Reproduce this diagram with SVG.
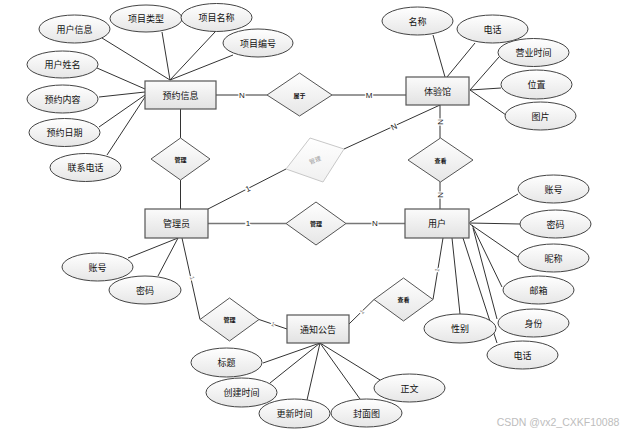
<svg xmlns="http://www.w3.org/2000/svg" width="629" height="434" viewBox="0 0 629 434">
<defs>
<linearGradient id="gE" x1="0" y1="0" x2="0" y2="1"><stop offset="0" stop-color="#ffffff"/><stop offset="1" stop-color="#e6e6e6"/></linearGradient>
<linearGradient id="gR" x1="0" y1="0" x2="0" y2="1"><stop offset="0" stop-color="#fbfbfb"/><stop offset="1" stop-color="#e2e2e2"/></linearGradient>
<linearGradient id="gF" x1="0" y1="0" x2="0" y2="1"><stop offset="0" stop-color="#ffffff"/><stop offset="1" stop-color="#f0f0f0"/></linearGradient>
<style>
.e{fill:url(#gE);stroke:#444;stroke-width:1}
.r{fill:url(#gR);stroke:#555;stroke-width:1.2}
.d{fill:url(#gE);stroke:#555;stroke-width:1}
.t{font-family:"Noto Sans CJK SC","Noto Sans",sans-serif;font-size:9px;fill:#111;text-anchor:middle;dominant-baseline:central}
.dt{font-family:"Noto Sans CJK SC","Noto Sans",sans-serif;font-size:6px;font-weight:bold;fill:#111;text-anchor:middle;dominant-baseline:central}
.c line,.c polyline{stroke:#333;stroke-width:1;fill:none}
.c .g{stroke:#777;stroke-width:1.5}
.l{font-family:"Liberation Sans",sans-serif;font-size:8px;fill:#222;text-anchor:middle;dominant-baseline:central;stroke:#fff;stroke-width:2.5;paint-order:stroke}
.ls{font-family:"Liberation Sans",sans-serif;font-size:6px;fill:#777;text-anchor:middle;dominant-baseline:central;stroke:#fff;stroke-width:2;paint-order:stroke}
</style>
</defs>
<rect width="629" height="434" fill="#fff"/>
<g id="connectors" class="c">
<line x1="102" y1="38" x2="170" y2="80"/>
<line x1="162" y1="32" x2="170" y2="80"/>
<line x1="215" y1="32" x2="170" y2="80"/>
<line x1="233" y1="55" x2="170" y2="80"/>
<line x1="97" y1="68" x2="145" y2="89"/>
<line x1="99" y1="97" x2="145" y2="92"/>
<line x1="99" y1="127" x2="145" y2="95"/>
<line x1="107" y1="155" x2="145" y2="97"/>
<line x1="433" y1="35" x2="445" y2="77"/>
<line x1="475" y1="43" x2="447" y2="77"/>
<line x1="499" y1="57" x2="470" y2="90"/>
<line x1="501" y1="88" x2="470" y2="90"/>
<line x1="506" y1="115" x2="470" y2="90"/>
<line x1="216" y1="95" x2="267" y2="95"/>
<line x1="332" y1="95" x2="406" y2="95"/>
<line x1="180.5" y1="109" x2="180.5" y2="138"/>
<line x1="180.5" y1="180" x2="180.5" y2="209"/>
<line x1="208" y1="209" x2="286" y2="169"/>
<line x1="344" y1="149" x2="440" y2="105"/>
<line x1="440" y1="105" x2="440" y2="138"/>
<line x1="440" y1="182" x2="440" y2="209"/>
<line class="g" x1="208" y1="223.5" x2="286" y2="223.5"/>
<line class="g" x1="346" y1="223.5" x2="405" y2="223.5"/>
<polyline points="182,238 200,319.5"/>
<line x1="259" y1="319.5" x2="287" y2="329"/>
<line x1="349" y1="324" x2="374" y2="299.5"/>
<line x1="433" y1="299.5" x2="443" y2="238"/>
<line x1="128" y1="258" x2="178" y2="238"/>
<line x1="158" y1="276" x2="178" y2="238"/>
<line x1="263" y1="363" x2="320" y2="343"/>
<line x1="270" y1="383" x2="320" y2="343"/>
<line x1="307" y1="400" x2="320" y2="343"/>
<line x1="360" y1="399" x2="320" y2="343"/>
<line x1="380" y1="380" x2="320" y2="343"/>
<line x1="518" y1="194" x2="470" y2="222"/>
<line x1="520" y1="224" x2="469" y2="223"/>
<line x1="518" y1="257" x2="470" y2="224"/>
<line x1="502" y1="287" x2="472" y2="225"/>
<line x1="497" y1="319" x2="473" y2="228"/>
<line x1="497" y1="343" x2="463" y2="238"/>
<line x1="460" y1="314" x2="452" y2="238"/>
<text class="l" x="242" y="95">N</text>
<text class="l" x="369" y="95">M</text>
<text class="l" x="248" y="189" transform="rotate(-25 248 189)">1</text>
<text class="l" x="394" y="127" transform="rotate(-25 394 127)">N</text>
<text class="l" x="440" y="122" transform="rotate(90 440 122)">N</text>
<text class="l" x="440" y="195" transform="rotate(90 440 195)">N</text>
<text class="l" x="248" y="223.5">1</text>
<text class="l" x="375" y="223.5">N</text>
<text class="ls" x="192" y="278" transform="rotate(77 192 278)">1</text>
<text class="ls" x="273" y="324" transform="rotate(18 273 324)">1</text>
<text class="ls" x="362" y="312" transform="rotate(-45 362 312)">1</text>
<text class="ls" x="437" y="270" transform="rotate(-80 437 270)">1</text>
</g>
<g id="n-yuyue"><rect class="r" x="145" y="81" width="71" height="28"/><text class="t" x="180.5" y="95">预约信息</text></g>
<g id="n-tiyanguan"><rect class="r" x="406" y="77" width="63" height="28"/><text class="t" x="437.5" y="91">体验馆</text></g>
<g id="n-guanliyuan"><rect class="r" x="145" y="209" width="63" height="29"/><text class="t" x="176.5" y="223.5">管理员</text></g>
<g id="n-yonghu"><rect class="r" x="405" y="209" width="64" height="29"/><text class="t" x="437" y="223.5">用户</text></g>
<g id="n-tongzhi"><rect class="r" x="287" y="315" width="62" height="28"/><text class="t" x="318" y="329">通知公告</text></g>
<g id="r-shuyu"><polygon class="d" points="267,95 299.5,73 332,95 299.5,116"/><text class="dt" x="299.5" y="95">属于</text></g>
<g id="r-guanli1"><polygon class="d" points="151,159 180.5,138 210,159 180.5,180"/><text class="dt" x="180.5" y="159">管理</text></g>
<g id="r-guanli-faint"><polygon points="286,169 310,138 344,149 323,182" fill="url(#gF)" stroke="#c8c8c8" stroke-width="1"/><text x="315" y="160" transform="rotate(-22 315 160)" font-family="Noto Sans CJK SC, sans-serif" font-size="6" fill="#999" text-anchor="middle" dominant-baseline="central">管理</text></g>
<g id="r-chakan1"><polygon class="d" points="408,160 440.5,138 473,160 440.5,182"/><text class="dt" x="440.5" y="160">查看</text></g>
<g id="r-guanli2"><polygon class="d" points="286,223.5 316,202 346,223.5 316,245"/><text class="dt" x="316" y="223.5">管理</text></g>
<g id="r-guanli3"><polygon class="d" points="200,319.5 229.5,298 259,319.5 229.5,341"/><text class="dt" x="229.5" y="319.5">管理</text></g>
<g id="r-chakan2"><polygon class="d" points="374,299.5 403.5,278 433,299.5 403.5,321"/><text class="dt" x="403.5" y="299.5">查看</text></g>
<g id="a-yhxx"><ellipse class="e" cx="74.5" cy="29" rx="35.5" ry="14"/><text class="t" x="74.5" y="29">用户信息</text></g>
<g id="a-xmlx"><ellipse class="e" cx="146" cy="18.5" rx="36" ry="13.5"/><text class="t" x="146" y="18.5">项目类型</text></g>
<g id="a-xmmc"><ellipse class="e" cx="216.5" cy="17.5" rx="35.5" ry="14"/><text class="t" x="216.5" y="17.5">项目名称</text></g>
<g id="a-xmbh"><ellipse class="e" cx="258" cy="43" rx="35" ry="14"/><text class="t" x="258" y="43">项目编号</text></g>
<g id="a-yhxm"><ellipse class="e" cx="62.5" cy="64.5" rx="35.5" ry="13.5"/><text class="t" x="62.5" y="64.5">用户姓名</text></g>
<g id="a-yynr"><ellipse class="e" cx="62.5" cy="99" rx="35.5" ry="14"/><text class="t" x="62.5" y="99">预约内容</text></g>
<g id="a-yyrq"><ellipse class="e" cx="64.5" cy="132.5" rx="35.5" ry="14"/><text class="t" x="64.5" y="132.5">预约日期</text></g>
<g id="a-lxdh"><ellipse class="e" cx="85.5" cy="167.5" rx="35.5" ry="14"/><text class="t" x="85.5" y="167.5">联系电话</text></g>
<g id="a-mc"><ellipse class="e" cx="417.5" cy="21" rx="35.5" ry="14"/><text class="t" x="417.5" y="21">名称</text></g>
<g id="a-dh1"><ellipse class="e" cx="492.5" cy="29" rx="35.5" ry="14"/><text class="t" x="492.5" y="29">电话</text></g>
<g id="a-yysj"><ellipse class="e" cx="533.5" cy="52.5" rx="35.5" ry="14"/><text class="t" x="533.5" y="52.5">营业时间</text></g>
<g id="a-wz"><ellipse class="e" cx="536.5" cy="84.5" rx="35.5" ry="14.5"/><text class="t" x="536.5" y="84.5">位置</text></g>
<g id="a-tp"><ellipse class="e" cx="540.5" cy="116" rx="35.5" ry="14"/><text class="t" x="540.5" y="116">图片</text></g>
<g id="a-zh1"><ellipse class="e" cx="97.5" cy="267" rx="35.5" ry="14"/><text class="t" x="97.5" y="267">账号</text></g>
<g id="a-mm1"><ellipse class="e" cx="145" cy="290" rx="36" ry="14"/><text class="t" x="145" y="290">密码</text></g>
<g id="a-bt"><ellipse class="e" cx="226.5" cy="362.5" rx="35.5" ry="14.5"/><text class="t" x="226.5" y="362.5">标题</text></g>
<g id="a-cjsj"><ellipse class="e" cx="241.5" cy="392.5" rx="35.5" ry="14.5"/><text class="t" x="241.5" y="392.5">创建时间</text></g>
<g id="a-gxsj"><ellipse class="e" cx="294.5" cy="413.5" rx="35.5" ry="14.5"/><text class="t" x="294.5" y="413.5">更新时间</text></g>
<g id="a-fmt"><ellipse class="e" cx="366.5" cy="413" rx="35.5" ry="14"/><text class="t" x="366.5" y="413">封面图</text></g>
<g id="a-zw"><ellipse class="e" cx="409.5" cy="388" rx="35.5" ry="14"/><text class="t" x="409.5" y="388">正文</text></g>
<g id="a-zh2"><ellipse class="e" cx="553.5" cy="189" rx="35.5" ry="14"/><text class="t" x="553.5" y="189">账号</text></g>
<g id="a-mm2"><ellipse class="e" cx="555.5" cy="224" rx="35.5" ry="14"/><text class="t" x="555.5" y="224">密码</text></g>
<g id="a-nc"><ellipse class="e" cx="553.5" cy="258" rx="35.5" ry="14"/><text class="t" x="553.5" y="258">昵称</text></g>
<g id="a-yx"><ellipse class="e" cx="538.5" cy="290" rx="35.5" ry="14"/><text class="t" x="538.5" y="290">邮箱</text></g>
<g id="a-sf"><ellipse class="e" cx="533.5" cy="323" rx="35.5" ry="14"/><text class="t" x="533.5" y="323">身份</text></g>
<g id="a-dh2"><ellipse class="e" cx="522.5" cy="355" rx="35.5" ry="14"/><text class="t" x="522.5" y="355">电话</text></g>
<g id="a-xb"><ellipse class="e" cx="460" cy="328.5" rx="36" ry="14.5"/><text class="t" x="460" y="328.5">性别</text></g>
<text x="558" y="422" font-family="Liberation Sans, sans-serif" font-size="10.5" fill="#bdbdbd" text-anchor="middle" dominant-baseline="central">CSDN @vx2_CXKF10088</text>
</svg>
